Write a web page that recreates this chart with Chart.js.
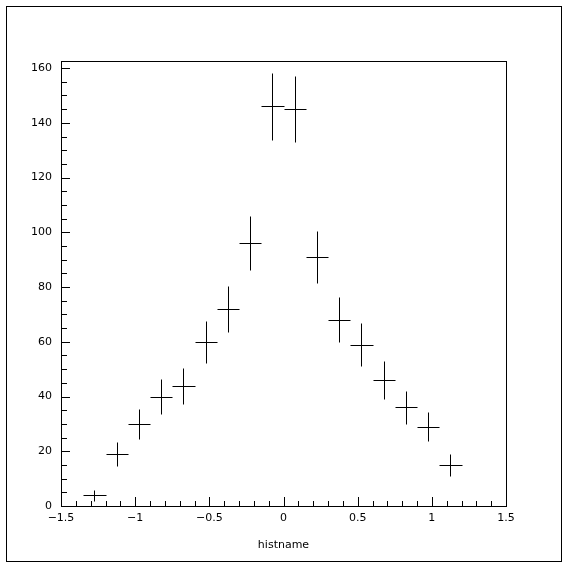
<!DOCTYPE html>
<html>
<head>
<meta charset="UTF-8">
<script src="https://cdn.jsdelivr.net/npm/chart.js"></script>
<style>
  body { margin: 0; background: #fff; }
  canvas { display: block; }
</style>
</head>
<body>
<canvas id="grafica" width="567" height="568"></canvas>
<script>
// bin centers (20 bins of 0.15 from -1.5 to 1.5, only the filled ones)
const binCenters = [-1.275, -1.125, -0.975, -0.825, -0.675, -0.525, -0.375, -0.225, -0.075,
                    0.075, 0.225, 0.375, 0.525, 0.675, 0.825, 0.975, 1.125];
const counts = [4, 19, 30, 40, 44, 60, 72, 96, 146, 145, 91, 68, 59, 46, 36, 29, 15];
const errors = [2, 4.4, 5.5, 6.3, 6.6, 7.7, 8.5, 9.8, 12.1, 12.0, 9.5, 8.2, 7.7, 6.8, 6.0, 5.4, 3.9];
const binWidth = 0.15;

const xMajor = [-1.5, -1, -0.5, 0, 0.5, 1, 1.5];
const yMajor = [0, 20, 40, 60, 80, 100, 120, 140, 160];

const points = binCenters.map((c, i) => ({ x: c, y: counts[i] }));

function fmt(v) {
  const s = String(Math.round(v * 100) / 100);
  return s.replace("-", "\u2212");
}

const crossPlugin = {
  id: "cross",
  beforeDraw(chart) {
    const ctx = chart.ctx;
    ctx.save();
    ctx.fillStyle = "#fff";
    ctx.fillRect(0, 0, chart.width, chart.height);
    ctx.strokeStyle = "#000";
    ctx.lineWidth = 1;
    ctx.strokeRect(6.5, 6.5, 555, 555);
    ctx.restore();
  },
  afterDatasetsDraw(chart) {
    const ctx = chart.ctx;
    const xs = chart.scales.x;
    const ys = chart.scales.y;
    const a = chart.chartArea;
    const px = (v) => Math.round(v) + 0.5;
    ctx.save();
    ctx.strokeStyle = "#000";
    ctx.lineWidth = 1;

    // frame
    ctx.strokeRect(a.left + 0.5, a.top + 0.5, a.right - a.left, a.bottom - a.top);

    // x ticks, inward
    ctx.beginPath();
    for (let k = 0; k <= 30; k++) {
      const v = -1.5 + k * 0.1;
      const x = px(xs.getPixelForValue(v));
      const len = k % 5 === 0 ? 9 : 5;
      ctx.moveTo(x, a.bottom);
      ctx.lineTo(x, a.bottom - len);
    }
    // y ticks, inward
    for (let v = 0; v <= 160; v += 5) {
      const y = px(ys.getPixelForValue(v));
      const len = v % 20 === 0 ? 9 : 6;
      ctx.moveTo(a.left, y);
      ctx.lineTo(a.left + len, y);
    }
    ctx.stroke();

    // crosses: bin width horizontally, error vertically
    ctx.beginPath();
    binCenters.forEach((c, i) => {
      const x0 = px(xs.getPixelForValue(c - binWidth / 2));
      const x1 = px(xs.getPixelForValue(c + binWidth / 2));
      const xc = px(xs.getPixelForValue(c));
      const yc = px(ys.getPixelForValue(counts[i]));
      const yLo = px(Math.min(ys.getPixelForValue(counts[i] - errors[i]), a.bottom));
      const yHi = px(ys.getPixelForValue(counts[i] + errors[i]));
      ctx.moveTo(x0, yc);
      ctx.lineTo(x1, yc);
      ctx.moveTo(xc, yHi);
      ctx.lineTo(xc, yLo);
    });
    ctx.stroke();
    ctx.restore();
  }
};

const ctx = document.getElementById("grafica").getContext("2d");
new Chart(ctx, {
  type: "scatter",
  data: {
    datasets: [{
      label: "histname",
      data: points,
      pointRadius: 0,
      showLine: false
    }]
  },
  options: {
    responsive: false,
    animation: false,
    layout: { padding: { top: 61, right: 61, left: 0, bottom: 0 } },
    plugins: { legend: { display: false }, tooltip: { enabled: false } },
    scales: {
      x: {
        type: "linear",
        min: -1.5,
        max: 1.5,
        afterFit(scale) { scale.height = 62; },
        afterBuildTicks(scale) { scale.ticks = xMajor.map((v) => ({ value: v })); },
        grid: { display: false, drawTicks: false },
        border: { display: false },
        ticks: {
          padding: 6,
          color: "#000",
          font: { family: "DejaVu Sans", size: 11 },
          maxRotation: 0,
          callback: (v) => fmt(v)
        },
        title: {
          display: true,
          text: "histname",
          color: "#000",
          font: { family: "DejaVu Sans", size: 11 },
          padding: { top: 0, bottom: 16 }
        }
      },
      y: {
        type: "linear",
        min: 0,
        max: 162.6,
        afterFit(scale) { scale.width = 61; },
        afterBuildTicks(scale) { scale.ticks = yMajor.map((v) => ({ value: v })); },
        grid: { display: false, drawTicks: false },
        border: { display: false },
        ticks: {
          padding: 9,
          color: "#000",
          font: { family: "DejaVu Sans", size: 11 },
          callback: (v) => fmt(v)
        }
      }
    }
  },
  plugins: [crossPlugin]
});
</script>
</body>
</html>
